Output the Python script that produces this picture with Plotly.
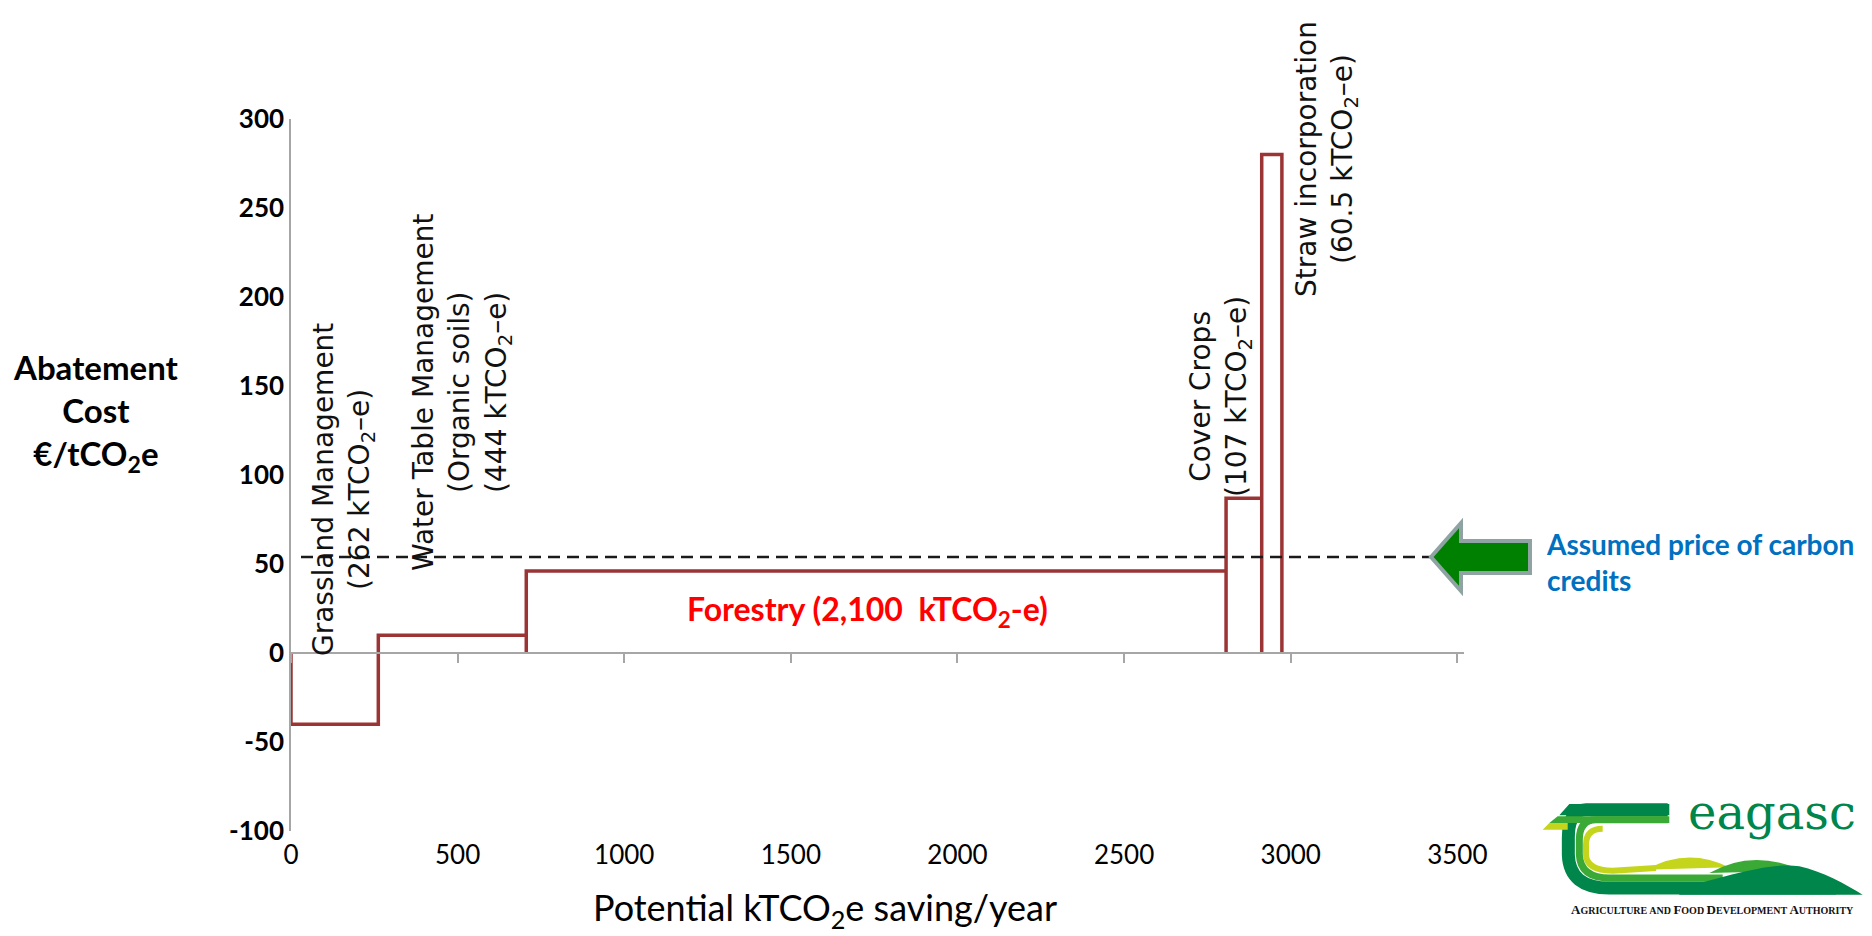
import plotly.graph_objects as go

# ---------------- data ----------------
measures = ["Grassland Management", "Water Table Management (Organic soils)",
            "Forestry", "Cover Crops", "Straw incorporation"]
savings = [262, 444, 2100, 107, 60.5]          # kTCO2-e per year (bar widths)
costs = [-40, 10, 46, 87, 280]                  # EUR / tCO2e (bar heights)
carbon_price = 54                               # assumed carbon credit price
price_line_x = [30, 3420]                       # extent of the dashed price line
x_ticks = [0, 500, 1000, 1500, 2000, 2500, 3000, 3500]
y_ticks = [-100, -50, 0, 50, 100, 150, 200, 250, 300]

# ---------------- geometry helpers (pixel -> paper) ----------------
W, H = 1872, 936
PL, PR, PT, PB = 283, 1456, 111, 823


def px(x):
    return (x - PL) / (PR - PL)


def py(y):
    return (PB - y) / (PB - PT)


def pt(x, y):
    return f"{px(x):.5f},{py(y):.5f}"


def zp(zx, zy):
    # coordinates inside the logo box
    return pt(1528 + zx / 3, 770 + zy / 3)


# ---------------- step outline of the MACC ----------------
xs, ys = [], []
start = 0
for w, c in zip(savings, costs):
    end = start + w
    xs += [start, start, end, end]
    ys += [0, c, c, 0]
    start = end

fig = go.Figure()
fig.add_trace(go.Scatter(x=xs, y=ys, mode="lines",
                         line=dict(color="#9B3535", width=3.5),
                         hoverinfo="skip", showlegend=False))
fig.add_trace(go.Scatter(x=price_line_x, y=[carbon_price] * 2, mode="lines",
                         line=dict(color="#1a1a1a", width=2.5, dash="12px,7px"),
                         hoverinfo="skip", showlegend=False))

# ---------------- annotations ----------------
sub2 = "<sub>2</sub>"
lab_font = dict(family="DejaVu Sans", size=28, color="#111111")
ann = []


def add_ann(x, y, text, font, angle=0, xanchor="center", align="center"):
    ann.append(dict(x=px(x), y=py(y), xref="paper", yref="paper", text=text,
                    showarrow=False, font=font, textangle=angle,
                    xanchor=xanchor, yanchor="middle", align=align))


add_ann(335, 482, f"Grassland Management<br>(262 kTCO{sub2}–e)", lab_font, -90)
add_ann(454, 385, f"Water Table Management<br>(Organic soils)<br>(444 kTCO{sub2}–e)", lab_font, -90)
add_ann(1212, 389, f"Cover Crops<br>(107 kTCO{sub2}–e)", lab_font, -90)
add_ann(1318, 151, f"Straw incorporation<br>(60.5 kTCO{sub2}–e)", lab_font, -90)
add_ann(859, 603, f"Forestry (2,100\u00a0 kTCO{sub2}-e)",
        dict(family="Lato", size=32, color="#FF0000", weight="bold"))
add_ann(1536, 554, "Assumed price of carbon<br>credits",
        dict(family="Lato", size=28, color="#0070C0", weight="bold"),
        xanchor="left", align="left")
add_ann(88, 405, f"Abatement<br>Cost<br>€/tCO{sub2}e",
        dict(family="Lato", size=33, color="#000000", weight="bold"))
add_ann(817, 902, f"Potential kTCO{sub2}e saving/year",
        dict(family="Lato", size=36, color="#000000"))

# logo text
add_ann(1764, 804, "eagasc", dict(family="DejaVu Serif", size=48, color="#00854A"))
sc = lambda big, rest: (f"<span style='font-size:13px'>{big}</span>{rest}")
tag = " ".join([sc("A", "GRICULTURE"), "AND", sc("F", "OOD"),
                sc("D", "EVELOPMENT"), sc("A", "UTHORITY")])
add_ann(1704, 902, tag, dict(family="Liberation Serif", size=10, color="#111111", weight="bold"))

# ---------------- shapes: arrow + logo ----------------
shapes = []
arrow_pts = [(1423, 549), (1453, 515), (1453, 533), (1522, 533),
             (1522, 565), (1453, 565), (1453, 583)]
shapes.append(dict(type="path", xref="paper", yref="paper",
                   path="M " + " L ".join(pt(x, y) for x, y in arrow_pts) + " Z",
                   fillcolor="#008000", line=dict(color="#8FA3A3", width=4)))

DG, MG, YG = "#00854A", "#3BA935", "#C5D51C"


def fillpath(p, color):
    shapes.append(dict(type="path", xref="paper", yref="paper", path=p,
                       fillcolor=color, line=dict(width=0)))


def strokepath(p, color, w):
    shapes.append(dict(type="path", xref="paper", yref="paper", path=p,
                       fillcolor="rgba(0,0,0,0)", line=dict(color=color, width=w)))


fillpath(f"M {zp(330,275)} Q {zp(455,205)} {zp(580,268)} Z", YG)
fillpath(f"M {zp(520,285)} Q {zp(650,210)} {zp(800,278)} Z", MG)
strokepath(f"M {zp(200,152)} Q {zp(150,152)} {zp(150,200)} L {zp(150,230)} "
           f"Q {zp(152,278)} {zp(230,278)} L {zp(360,270)}", YG, 6)
strokepath(f"M {zp(395,125)} L {zp(180,125)} Q {zp(130,125)} {zp(130,185)} L {zp(130,230)} "
           f"Q {zp(133,300)} {zp(220,300)} L {zp(560,300)}", MG, 7)
fillpath(f"M {zp(430,330)} C {zp(560,300)} {zp(700,250)} {zp(790,265)} "
         f"C {zp(860,280)} {zp(930,320)} {zp(980,350)} L {zp(430,350)} Z", DG)
strokepath(f"M {zp(395,95)} L {zp(150,95)} Q {zp(97,95)} {zp(97,180)} L {zp(97,230)} "
           f"Q {zp(100,330)} {zp(220,330)} L {zp(900,330)}", DG, 13)
fillpath(f"M {zp(100,78)} L {zp(400,78)} L {zp(400,112)} L {zp(70,112)} Z", DG)
fillpath(f"M {zp(65,115)} L {zp(400,115)} L {zp(400,135)} L {zp(40,135)} Z", MG)
fillpath(f"M {zp(40,135)} L {zp(95,135)} L {zp(95,155)} L {zp(20,155)} Z", YG)

# ---------------- layout ----------------
fig.update_layout(
    width=W, height=H, autosize=False,
    template="none",
    paper_bgcolor="white", plot_bgcolor="white",
    margin=dict(l=PL, r=W - PR, t=PT, b=H - PB, pad=0),
    font=dict(family="Lato", color="#000000"),
    showlegend=False,
    annotations=ann,
    shapes=shapes,
    xaxis=dict(range=[0, 3520], anchor="free", position=0.25,
               showline=True, linecolor="#A6A6A6", linewidth=2,
               ticks="outside", ticklen=9, tickwidth=2, tickcolor="#A6A6A6",
               tickvals=x_ticks, ticktext=[str(v) for v in x_ticks],
               tickfont=dict(family="Lato", size=26, color="#000000"),
               ticklabelstandoff=170,
               showgrid=False, zeroline=False, fixedrange=True),
    yaxis=dict(range=[-100, 300], anchor="x",
               showline=True, linecolor="#A6A6A6", linewidth=1.5,
               ticks="", tickvals=y_ticks, ticktext=[str(v) for v in y_ticks],
               tickfont=dict(family="Lato", size=26, color="#000000", weight="bold"),
               showgrid=False, zeroline=False, fixedrange=True),
)

fig.write_html("out.html")
